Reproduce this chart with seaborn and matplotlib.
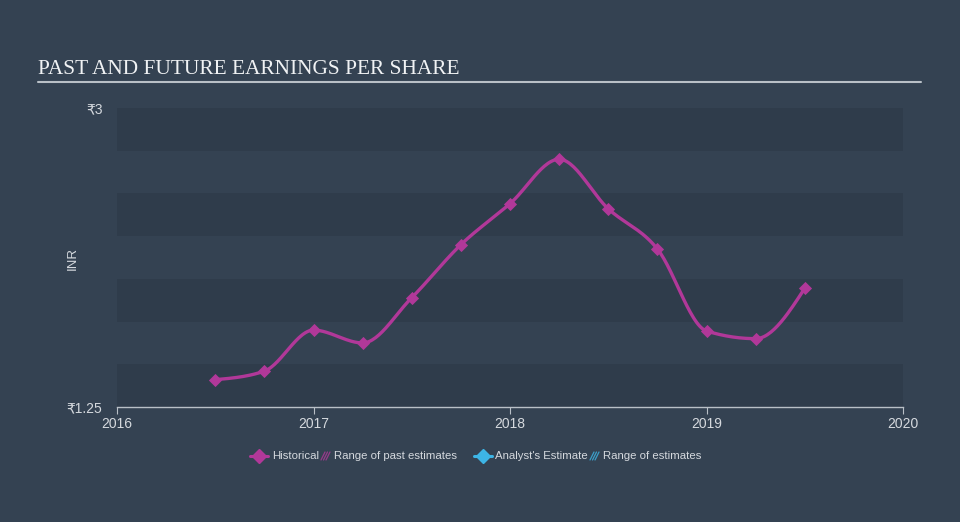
import numpy as np
import pandas as pd
import matplotlib
matplotlib.use("Agg")
import matplotlib.pyplot as plt
from matplotlib.lines import Line2D
from matplotlib.patches import Rectangle
import seaborn as sns

# ---- data ----
periods = [2016.5, 2016.75, 2017.0, 2017.25, 2017.5, 2017.75, 2018.0,
           2018.25, 2018.5, 2018.75, 2019.0, 2019.25, 2019.5]
eps_hist = [1.41, 1.46, 1.70, 1.625, 1.89, 2.20, 2.44,
            2.70, 2.41, 2.175, 1.695, 1.65, 1.945]
x_ticks = [2016, 2017, 2018, 2019, 2020]
x_tick_labels = ["2016", "2017", "2018", "2019", "2020"]
y_ticks = [1.25, 3.0]
y_tick_labels = ["₹1.25", "₹3"]
legend_labels = ["Historical", "Range of past estimates", "Analyst's Estimate", "Range of estimates"]
title = "PAST AND FUTURE EARNINGS PER SHARE"
y_label = "INR"

# ---- style ----
BG = "#344252"
BAND = "#2f3c4b"
MAG = "#b13899"
CYAN = "#3db5e6"
TXT = "#d5d9de"
AXIS = "#b9c0c7"

sns.set_theme(style="dark", rc={"figure.facecolor": BG, "axes.facecolor": BG})
plt.rcParams["font.family"] = ["Liberation Sans", "DejaVu Sans"]


def monotone_x(x, y, n=30):
    x = np.asarray(x, float); y = np.asarray(y, float)
    h = np.diff(x); s = np.diff(y) / h
    m = np.zeros_like(y)
    for i in range(1, len(y) - 1):
        if s[i - 1] * s[i] <= 0:
            m[i] = 0
        else:
            p = (s[i - 1] * h[i] + s[i] * h[i - 1]) / (h[i - 1] + h[i])
            m[i] = (np.sign(s[i - 1]) + np.sign(s[i])) * min(abs(s[i - 1]), abs(s[i]), 0.5 * abs(p))
    m[0] = (3 * s[0] - m[1]) / 2 if len(y) > 2 else s[0]
    m[-1] = (3 * s[-1] - m[-2]) / 2 if len(y) > 2 else s[-1]
    xs, ys = [], []
    for i in range(len(x) - 1):
        t = np.linspace(0, 1, n, endpoint=(i == len(x) - 2))
        h00 = 2 * t**3 - 3 * t**2 + 1
        h10 = t**3 - 2 * t**2 + t
        h01 = -2 * t**3 + 3 * t**2
        h11 = t**3 - t**2
        xs.append(x[i] + t * h[i])
        ys.append(h00 * y[i] + h10 * h[i] * m[i] + h01 * y[i + 1] + h11 * h[i] * m[i + 1])
    return np.concatenate(xs), np.concatenate(ys)


W, H = 960, 522
fig = plt.figure(figsize=(W / 100, H / 100), dpi=100)
fig.patch.set_facecolor(BG)
ax = fig.add_axes([117 / W, 1 - 407 / H, (903 - 117) / W, (407 - 108) / H])
ax.set_facecolor(BG)

# horizontal bands
edges = np.linspace(1.25, 3.0, 8)
for i in range(7):
    if i % 2 == 0:
        ax.axhspan(edges[i], edges[i + 1], color=BAND, lw=0, zorder=0)

df = pd.DataFrame({"period": periods, "eps": eps_hist})
sx, sy = monotone_x(periods, eps_hist)
sns.lineplot(x=sx, y=sy, ax=ax, color=MAG, lw=2.4, sort=False, zorder=3)
sns.scatterplot(data=df, x="period", y="eps", ax=ax, marker="D", s=45,
                color=MAG, edgecolor=MAG, linewidth=0, zorder=4)

ax.set_xlim(2016, 2020)
ax.set_ylim(1.25, 3.0)
ax.set_xticks(x_ticks)
ax.set_xticklabels(x_tick_labels)
ax.set_yticks(y_ticks)
ax.set_yticklabels(y_tick_labels)
ax.grid(False)
for sp in ["top", "right", "left"]:
    ax.spines[sp].set_visible(False)
ax.spines["bottom"].set_color(AXIS)
ax.spines["bottom"].set_linewidth(1.0)
ax.tick_params(axis="x", colors=AXIS, length=5, width=0.8, direction="out",
               labelcolor=TXT, labelsize=10, pad=2, bottom=True)
ax.tick_params(axis="y", length=0, labelcolor=TXT, labelsize=10, pad=10.5)
ax.set_xlabel("")
ax.set_ylabel("")

fig.text(73 / W, 1 - 258 / H, y_label, rotation=90, ha="center", va="center",
         color=TXT, fontsize=9.5)

# title
fig.text(38 / W, 1 - 74 / H, title, ha="left", va="baseline", color="#f0f2f4",
         fontsize=15.4, family=["Liberation Serif", "DejaVu Serif"])
fig.add_artist(Line2D([38 / W, 921 / W], [1 - 82 / H, 1 - 82 / H],
                      transform=fig.transFigure, color=AXIS, lw=1.5))

# legend
ly = 1 - 456 / H
lfs = 8.2


def diamond_item(x0, color):
    fig.add_artist(Line2D([x0 / W, (x0 + 18) / W], [ly, ly], transform=fig.transFigure,
                          color=color, lw=2.2))
    fig.add_artist(Line2D([(x0 + 9) / W], [ly], transform=fig.transFigure, marker="D",
                          ms=7, color=color, lw=0))


def hatch_item(x0, color):
    for k in range(3):
        xa = x0 + k * 2.5
        fig.add_artist(Line2D([xa / W, (xa + 4) / W], [ly - 4 / H, ly + 4 / H],
                              transform=fig.transFigure, color=color, lw=0.9, alpha=0.8))


diamond_item(250, MAG)
fig.text(272 / W, ly, legend_labels[0], ha="left", va="center", color=TXT, fontsize=lfs)
hatch_item(321, MAG)
fig.text(334 / W, ly, legend_labels[1], ha="left", va="center", color=TXT, fontsize=lfs)
diamond_item(474, CYAN)
fig.text(495 / W, ly, legend_labels[2], ha="left", va="center", color=TXT, fontsize=lfs)
hatch_item(590, CYAN)
fig.text(603 / W, ly, legend_labels[3], ha="left", va="center", color=TXT, fontsize=lfs)

fig.savefig("out.png", dpi=100, facecolor=BG)
